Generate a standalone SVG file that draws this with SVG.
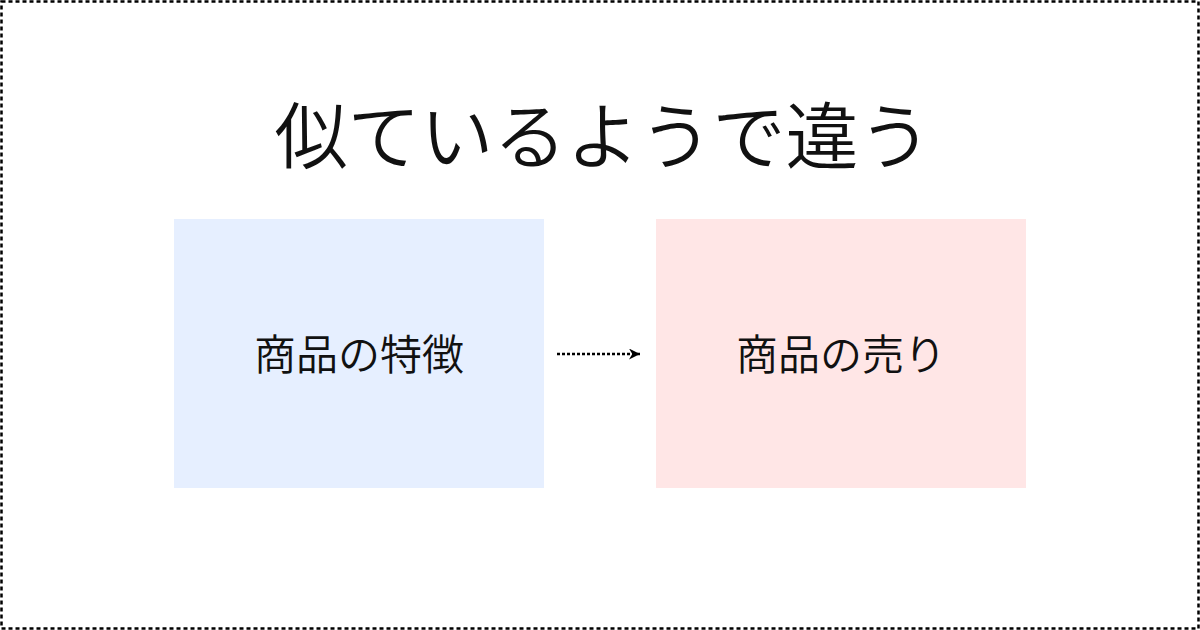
<svg xmlns="http://www.w3.org/2000/svg" width="1200" height="630" viewBox="0 0 1200 630">
<style>
.t{font-family:"Noto Sans CJK JP","Noto Sans CJK SC",sans-serif;fill:#111;text-anchor:middle}
.conn{stroke:#000;stroke-width:2.5;stroke-dasharray:3 2;fill:none}
</style>
<defs>
<marker id="ah" viewBox="0 0 10 10" refX="10" refY="5" markerWidth="11" markerHeight="11" markerUnits="userSpaceOnUse" orient="auto">
<path d="M0,0 L10,5 L0,10 L3,5 Z" fill="#000"/>
</marker>
</defs>
<rect width="1200" height="630" fill="#fff"/>
<rect x="1.5" y="1.5" width="1197" height="627" fill="none" stroke="#000" stroke-width="2.5" stroke-dasharray="4 3"/>
<g id="title"><text class="t" x="603" y="163" font-size="73" font-weight="350">似ているようで違う</text></g>
<g id="node1">
<rect x="174" y="219" width="370" height="269" fill="#e6efff"/>
<text class="t" x="359" y="370" font-size="42" font-weight="350">商品の特徴</text>
</g>
<g id="node2">
<rect x="656" y="219" width="370" height="269" fill="#ffe6e6"/>
<text class="t" x="841" y="370" font-size="42" font-weight="350">商品の売り</text>
</g>
<g id="connectors">
<line class="conn" x1="557" y1="354" x2="640" y2="354" marker-end="url(#ah)"/>
</g>
</svg>
